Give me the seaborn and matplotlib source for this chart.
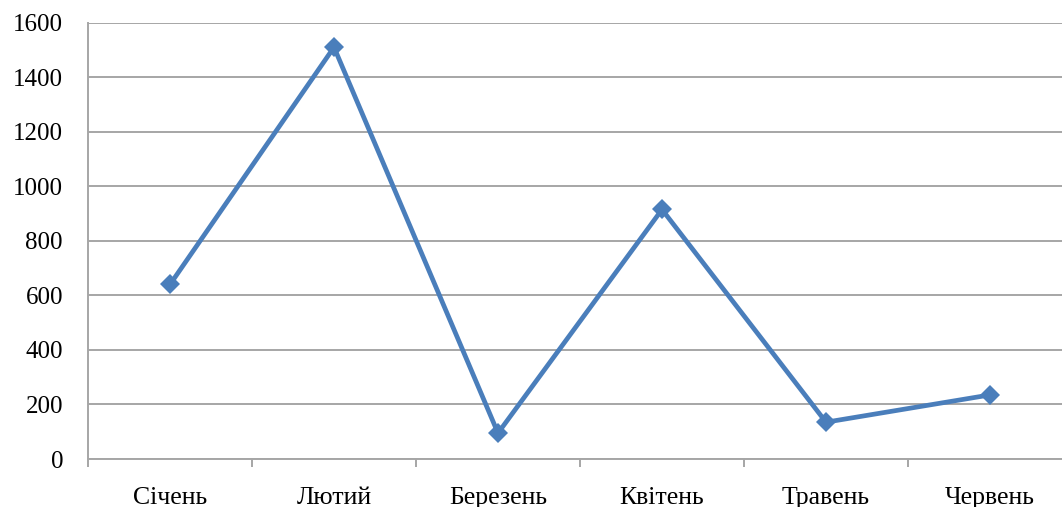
import matplotlib
matplotlib.use("Agg")
import matplotlib.pyplot as plt
from matplotlib.ticker import FixedLocator
import seaborn as sns
import pandas as pd

months = ["Січень", "Лютий", "Березень", "Квітень", "Травень", "Червень"]
values = [640, 1510, 95, 915, 135, 235]
y_ticks = [0, 200, 400, 600, 800, 1000, 1200, 1400, 1600]

sns.set_style("white")
plt.rcParams["font.family"] = ["Liberation Serif", "DejaVu Serif"]

df = pd.DataFrame({"month": months, "value": values})

fig = plt.figure(figsize=(10.62, 5.07), dpi=100)
ax = fig.add_axes([88 / 1062, 48 / 507, 984 / 1062, 436.3 / 507])

line_color = "#4A7EBB"
grid_color = "#A6A6A6"

sns.lineplot(data=df, x="month", y="value", sort=False, ax=ax,
             color=line_color, linewidth=3.4, marker="D",
             markersize=10.5, markeredgewidth=0, markerfacecolor=line_color)

ax.set_xlim(-0.5, len(months) - 0.5)
ax.set_ylim(0, 1600)
ax.set_yticks(y_ticks)
ax.set_yticklabels([str(v) for v in y_ticks])

ax.set_xticks(range(len(months)))
ax.set_xticklabels(months)
ax.xaxis.set_minor_locator(FixedLocator([i - 0.5 for i in range(len(months) + 1)]))

ax.grid(axis="y", color=grid_color, linewidth=1.4)
ax.set_axisbelow(True)
for side in ("top", "right"):
    ax.spines[side].set_visible(False)
for side in ("left", "bottom"):
    ax.spines[side].set_color(grid_color)
    ax.spines[side].set_linewidth(1.4)

ax.tick_params(axis="y", which="major", length=6, width=1.4, color=grid_color,
               pad=12, labelsize=18, labelcolor="black")
ax.tick_params(axis="x", which="major", length=0, pad=20, labelsize=18.5,
               labelcolor="black")
ax.tick_params(axis="x", which="minor", length=6, width=1.4, color=grid_color,
               bottom=True)

ax.set_xlabel("")
ax.set_ylabel("")

fig.savefig("out.png", dpi=100)
